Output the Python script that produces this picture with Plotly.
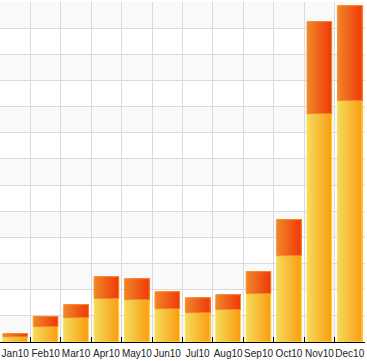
import plotly.graph_objects as go

months = ["Jan10", "Feb10", "Mar10", "Apr10", "May10", "Jun10",
          "Jul10", "Aug10", "Sep10", "Oct10", "Nov10", "Dec10"]
lower_vals = [0.20, 0.585, 0.93, 1.66, 1.62, 1.27, 1.12, 1.24, 1.85, 3.30, 8.73, 9.23]
upper_vals = [0.12, 0.395, 0.50, 0.84, 0.80, 0.65, 0.57, 0.57, 0.84, 1.38, 3.52, 3.63]

N = 24
W = 0.81


def lerp(c1, c2, t):
    return "rgb(%d,%d,%d)" % tuple(round(a + (b - a) * t) for a, b in zip(c1, c2))


fig = go.Figure()

series = [
    (lower_vals, None, (244, 218, 92), (250, 158, 18), "#ffe050"),
    (upper_vals, lower_vals, (240, 134, 42), (240, 58, 10), "#f5902e"),
]

for vals, base, cl, cr, edge in series:
    for i in range(N):
        fig.add_trace(go.Bar(
            x=months, y=vals, base=base,
            offset=-W / 2 + i * W / N, width=W - i * W / N,
            marker=dict(color=lerp(cl, cr, i / (N - 1)), line=dict(width=0)),
            showlegend=False, hoverinfo="skip",
        ))
    fig.add_trace(go.Bar(
        x=months, y=vals, base=base, offset=-W / 2, width=W,
        marker=dict(color="rgba(0,0,0,0)", line=dict(color=edge, width=1)),
        showlegend=False, hoverinfo="skip",
    ))

shapes = []
for k in range(0, 13, 2):
    shapes.append(dict(type="rect", xref="paper", yref="y", x0=0, x1=1, y0=k, y1=k + 1,
                       fillcolor="#f9f9f9", line=dict(width=0), layer="below"))

fig.update_layout(
    width=367, height=361,
    margin=dict(l=0, r=2, t=2, b=19),
    barmode="overlay",
    paper_bgcolor="white", plot_bgcolor="white",
    shapes=shapes,
    font=dict(family="Liberation Sans", size=10, color="#222222"),
    xaxis=dict(type="category", tickson="boundaries", showgrid=True, gridcolor="#dadada",
               gridwidth=1, ticks="inside", ticklen=5, tickcolor="black", tickwidth=1,
               showline=True, linecolor="black", linewidth=1, range=[-0.5, 11.5],
               tickangle=0, automargin=False, ticklabelstandoff=2,
               tickfont=dict(size=10), fixedrange=True),
    yaxis=dict(range=[0, 13], dtick=1, showgrid=True, gridcolor="#dadada", gridwidth=1,
               showticklabels=False, zeroline=False, showline=False, automargin=False,
               fixedrange=True),
)

fig.write_html("out.html", config={"displayModeBar": False},
               post_script="document.body.style.margin='0';document.body.style.overflow='hidden';")
